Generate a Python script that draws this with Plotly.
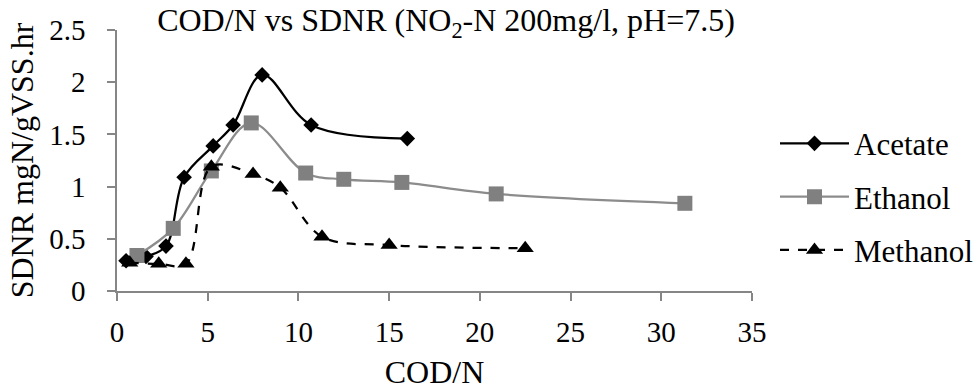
import plotly.graph_objects as go

# Data
acetate_x = [0.5, 1.6, 2.7, 3.7, 5.3, 6.4, 8.0, 10.7, 16.0]
acetate_y = [0.29, 0.33, 0.43, 1.09, 1.39, 1.59, 2.07, 1.59, 1.46]

ethanol_x = [1.1, 3.1, 5.2, 7.4, 10.4, 12.5, 15.7, 20.9, 31.3]
ethanol_y = [0.34, 0.60, 1.15, 1.61, 1.13, 1.07, 1.04, 0.93, 0.84]

methanol_x = [0.7, 2.3, 3.8, 5.2, 7.5, 9.0, 11.3, 15.0, 22.5]
methanol_y = [0.27, 0.26, 0.26, 1.19, 1.12, 0.99, 0.52, 0.44, 0.41]

x_ticks = [0, 5, 10, 15, 20, 25, 30, 35]
y_ticks = [0, 0.5, 1, 1.5, 2, 2.5]
y_tick_labels = ["0", "0.5", "1", "1.5", "2", "2.5"]

FONT = "Liberation Serif, Times New Roman, serif"
AXIS_COLOR = "#868686"

fig = go.Figure()

fig.add_trace(go.Scatter(
    x=acetate_x, y=acetate_y, name="Acetate", mode="lines+markers",
    line=dict(color="black", width=2.25, shape="spline", smoothing=1.0),
    marker=dict(symbol="diamond", size=12, color="black"),
    legendgroup="a",
))
fig.add_trace(go.Scatter(
    x=ethanol_x, y=ethanol_y, name="Ethanol", mode="lines+markers",
    line=dict(color="#8c8c8c", width=2.25, shape="spline", smoothing=1.0),
    marker=dict(symbol="square", size=15, color="#808080"),
    legendgroup="b",
))
fig.add_trace(go.Scatter(
    x=methanol_x, y=methanol_y, name="Methanol", mode="lines+markers",
    line=dict(color="black", width=2.25, dash="dash", shape="spline", smoothing=1.0),
    marker=dict(symbol="triangle-up", size=15, color="black"),
    legendgroup="c",
))

fig.update_layout(
    width=979, height=390,
    margin=dict(l=117, r=227, t=30, b=99, autoexpand=False),
    paper_bgcolor="white", plot_bgcolor="white",
    font=dict(family=FONT, size=29, color="black"),
    title=dict(
        text="COD/N vs SDNR (NO<sub>2</sub>-N 200mg/l, pH=7.5)",
        font=dict(family=FONT, size=32, color="black"),
        x=446 / 979, xref="container", xanchor="center",
        y=1 - 20 / 390, yref="container", yanchor="middle",
    ),
    legend=dict(
        x=(775 - 117) / 635, y=1 - (196.7 - 30) / 261,
        xanchor="left", yanchor="middle",
        font=dict(family=FONT, size=31, color="black"),
        tracegroupgap=10, itemwidth=69,
        bgcolor="rgba(0,0,0,0)",
    ),
    showlegend=True,
)

fig.update_xaxes(
    range=[0, 35], tickvals=x_ticks, ticktext=[str(v) for v in x_ticks],
    showline=True, linecolor=AXIS_COLOR, linewidth=1.5,
    ticks="outside", ticklen=8, tickcolor=AXIS_COLOR, tickwidth=1.5,
    showgrid=False, zeroline=False,
    tickfont=dict(family=FONT, size=29, color="black"),
    ticklabelstandoff=6,
    title=dict(text="COD/N", font=dict(family=FONT, size=32, color="black"), standoff=16),
)
fig.update_yaxes(
    range=[0, 2.5], tickvals=y_ticks, ticktext=y_tick_labels,
    showline=True, linecolor=AXIS_COLOR, linewidth=1.5,
    ticks="outside", ticklen=8, tickcolor=AXIS_COLOR, tickwidth=1.5,
    showgrid=False, zeroline=False,
    tickfont=dict(family=FONT, size=29, color="black"),
    ticklabelstandoff=16,
    title=dict(text="SDNR mgN/gVSS.hr", font=dict(family=FONT, size=32, color="black"), standoff=6),
)

fig.write_html("out.html")
